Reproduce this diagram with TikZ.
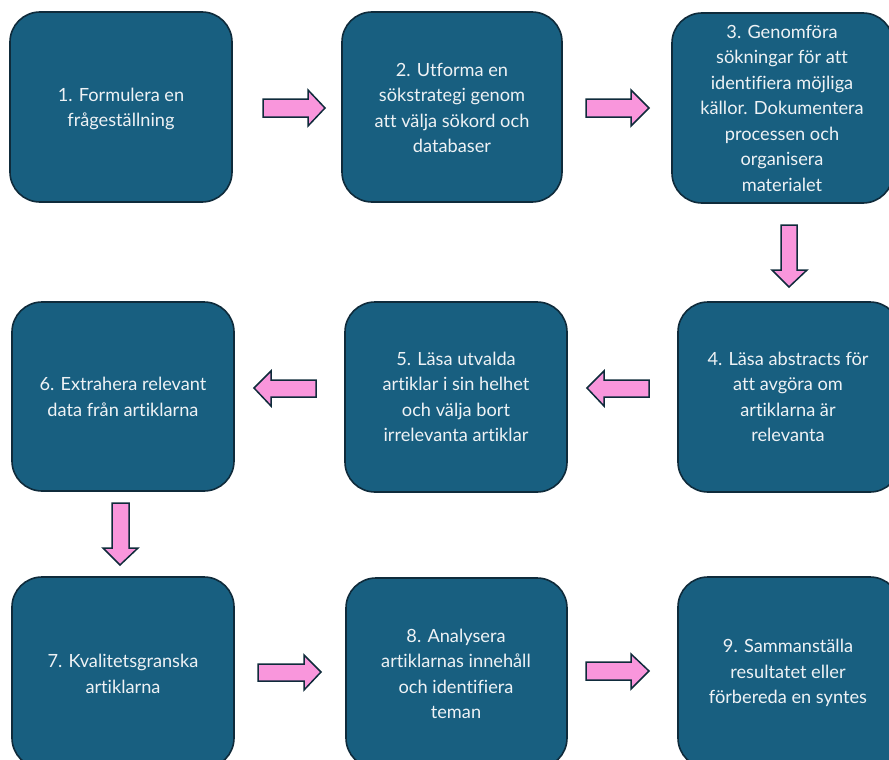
\documentclass[tikz,border=0pt]{standalone}
\usepackage{fontspec}
\setmainfont{Lato}[Ligatures=CommonOff]
\definecolor{boxblue}{HTML}{185F80}
\definecolor{boxedge}{HTML}{0F2B3B}
\definecolor{pinkfill}{HTML}{F996DC}
\definecolor{txt}{HTML}{EEF2F5}
\begin{document}
\begin{tikzpicture}[x=1pt,y=-1pt,
  stepbox/.style={draw=boxedge, line width=1.6pt, fill=boxblue, rounded corners=30pt},
  steptext/.style={text=txt, align=center, font=\fontsize{18.2}{25.5}\selectfont},
  pinkarrow/.style={draw=boxedge, line width=1.5pt, fill=pinkfill, line join=miter}]
\useasboundingbox (0,0) rectangle (889,760);
\begin{scope}
\clip (0,0) rectangle (889,760);
% row 1
\draw[stepbox] (10,12) rectangle (232,202);
\draw[stepbox] (342,12) rectangle (562,202);
\draw[stepbox] (672,13) rectangle (893,203);
% row 2
\draw[stepbox] (12,302) rectangle (234,491);
\draw[stepbox] (345,302) rectangle (567,492);
\draw[stepbox] (678,302) rectangle (900,492);
% row 3
\draw[stepbox] (12,577) rectangle (234,768);
\draw[stepbox] (346,578) rectangle (567,768);
\draw[stepbox] (678,577) rectangle (900,768);
\end{scope}
\node[steptext] (t1) at (121,109) {1. Formulera en\\frågeställning};
\node[steptext] (t2) at (452,108) {2. Utforma en\\sökstrategi genom\\att välja sökord och\\databaser};
\node[steptext] (t3) at (782,108) {3. Genomföra\\sökningar för att\\identifiera möjliga\\källor. Dokumentera\\processen och\\organisera\\materialet};
\node[steptext] (t6) at (123,397) {6. Extrahera relevant\\data från artiklarna};
\node[steptext] (t5) at (456,397) {5. Läsa utvalda\\artiklar i sin helhet\\och välja bort\\irrelevanta artiklar};
\node[steptext] (t4) at (788,397) {4. Läsa abstracts för\\att avgöra om\\artiklarna är\\relevanta};
\node[steptext] (t7) at (123,674) {7. Kvalitetsgranska\\artiklarna};
\node[steptext] (t8) at (456,674) {8. Analysera\\artiklarnas innehåll\\och identifiera\\teman};
\node[steptext] (t9) at (788,673) {9. Sammanställa\\resultatet eller\\förbereda en syntes};
% right arrows
\draw[pinkarrow] (263,99) -- (308,99) -- (308,90) -- (325,108) -- (308,126) -- (308,117) -- (263,117) -- cycle;
\draw[pinkarrow] (586,99) -- (631,99) -- (631,90) -- (649,108) -- (631,126) -- (631,117) -- (586,117) -- cycle;
\draw[pinkarrow] (258,664) -- (304,664) -- (304,655) -- (321,672) -- (304,690) -- (304,681) -- (258,681) -- cycle;
\draw[pinkarrow] (586,662) -- (631,662) -- (631,654) -- (649,671) -- (631,689) -- (631,680) -- (586,680) -- cycle;
% left arrows
\draw[pinkarrow] (316,380) -- (271,380) -- (271,371) -- (254,388) -- (271,406) -- (271,397) -- (316,397) -- cycle;
\draw[pinkarrow] (649,380) -- (604,380) -- (604,371) -- (587,388) -- (604,406) -- (604,397) -- (649,397) -- cycle;
% down arrows
\draw[pinkarrow] (781,225) -- (797,225) -- (797,270) -- (807,270) -- (789,287) -- (772,270) -- (781,270) -- cycle;
\draw[pinkarrow] (112,503) -- (129,503) -- (129,548) -- (138,548) -- (120,565) -- (103,548) -- (112,548) -- cycle;
\end{tikzpicture}
\end{document}
